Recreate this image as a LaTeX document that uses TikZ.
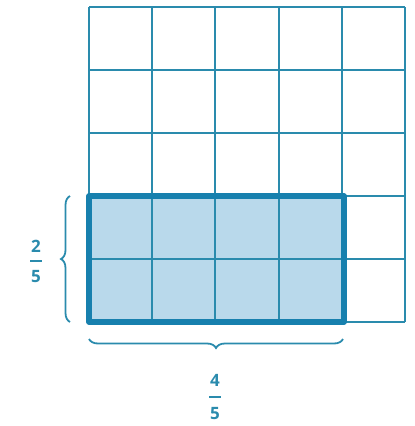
\documentclass[tikz,border=0pt]{standalone}
\usepackage{fontspec}
\setmainfont{Open Sans}
\usetikzlibrary{decorations.pathreplacing}
\definecolor{gridblue}{HTML}{2A8BAD}
\definecolor{darkblue}{HTML}{1780AE}
\definecolor{fillblue}{HTML}{B9D9EB}
\tikzset{
  gridline/.style={draw=gridblue, line width=2pt},
  shaded/.style={draw=darkblue, line width=5.5pt, line join=round},
  bracestyle/.style={draw=gridblue, line width=1.8pt, decorate, decoration={brace, amplitude=9pt}},
  digit/.style={text=gridblue, font=\bfseries\fontsize{17}{17}\selectfont, inner sep=0pt},
  barline/.style={draw=gridblue, line width=1.8pt}
}
\begin{document}
\begin{tikzpicture}[x=1pt,y=-1pt]
\useasboundingbox (0,0) rectangle (415,426);
% shaded region
\path[fill=fillblue] (89,196) rectangle (344,322);
% grid
\foreach \i in {0,...,5} {
  \draw[gridline] ({89+63.2*\i},7) -- ({89+63.2*\i},322);
  \draw[gridline] (89,{7+63*\i}) -- (405,{7+63*\i});
}
% thick outline
\draw[shaded] (89,196) rectangle (344,322);
% left brace
\coordinate (lb1) at (70,322);
\coordinate (lb2) at (70,196);
\draw[bracestyle] (lb1) -- (lb2);
\node[digit] (n2) at (36,246) {2};
\node[digit] (d5) at (36,277) {5};
\coordinate (l1a) at (30,261);
\coordinate (l1b) at (42,261);
\draw[barline] (l1a) -- (l1b);
% bottom brace
\coordinate (bb1) at (343,339);
\coordinate (bb2) at (89,339);
\draw[bracestyle] (bb1) -- (bb2);
\node[digit] (n4) at (215,380) {4};
\node[digit] (d5b) at (215,414) {5};
\coordinate (l2a) at (209,397);
\coordinate (l2b) at (221,397);
\draw[barline] (l2a) -- (l2b);
\end{tikzpicture}
\end{document}
